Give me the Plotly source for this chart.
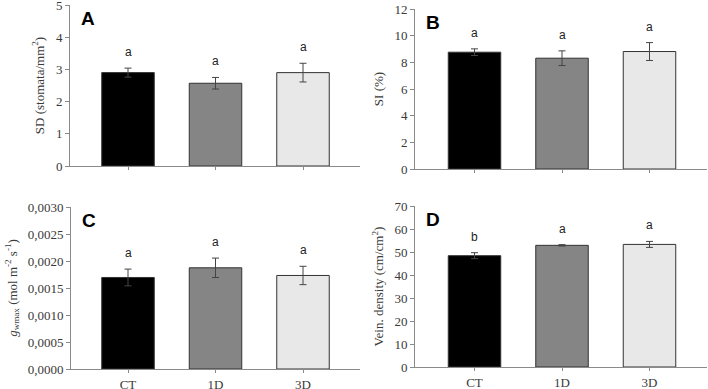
import plotly.graph_objects as go

categories = ["CT", "1D", "3D"]
bar_colors = ["#000000", "#858585", "#e8e8e8"]

sd_mean = [2.90, 2.57, 2.90]
sd_err = [0.14, 0.18, 0.29]
sd_letters = ["a", "a", "a"]

si_mean = [8.76, 8.31, 8.81]
si_err = [0.25, 0.55, 0.67]
si_letters = ["a", "a", "a"]

gw_mean = [0.001695, 0.001874, 0.001732]
gw_err = [0.000155, 0.000180, 0.000170]
gw_letters = ["a", "a", "a"]

vd_mean = [48.4, 52.9, 53.3]
vd_err = [1.3, 0.3, 1.3]
vd_letters = ["b", "a", "a"]

sd_ticks = [0, 1, 2, 3, 4, 5]
si_ticks = [0, 2, 4, 6, 8, 10, 12]
gw_ticks = [0, 0.0005, 0.0010, 0.0015, 0.0020, 0.0025, 0.0030]
gw_ticktext = ["0,0000", "0,0005", "0,0010", "0,0015", "0,0020", "0,0025", "0,0030"]
vd_ticks = [0, 10, 20, 30, 40, 50, 60, 70]

W, H = 708, 389

def px_x(a, b):
    return [a / W, b / W]

def px_y(top, bottom):
    return [1 - bottom / H, 1 - top / H]

panels = [
    dict(name="A", mean=sd_mean, err=sd_err, letters=sd_letters, ticks=sd_ticks, ticktext=None,
         yrange=[0, 5], title="SD (stomata/mm<sup>2</sup>)", xd=(70, 360), yd=(5, 166), showx=False,
         standoff=8),
    dict(name="B", mean=si_mean, err=si_err, letters=si_letters, ticks=si_ticks, ticktext=None,
         yrange=[0, 12], title="SI (%)", xd=(415, 707), yd=(9, 169), showx=False, standoff=7),
    dict(name="C", mean=gw_mean, err=gw_err, letters=gw_letters, ticks=gw_ticks, ticktext=gw_ticktext,
         yrange=[0, 0.003], title="<i>g</i><sub>wmax</sub> (mol m<sup>-2</sup> s<sup>-1</sup>)",
         xd=(71, 360), yd=(207, 369), showx=True, standoff=7),
    dict(name="D", mean=vd_mean, err=vd_err, letters=vd_letters, ticks=vd_ticks, ticktext=None,
         yrange=[0, 70], title="Vein. density (cm/cm<sup>2</sup>)", xd=(415, 707), yd=(206, 367),
         showx=True, standoff=7),
]

serif = "Liberation Serif, Times New Roman, serif"
axis_col = "#8a8a8a"
text_col = "#3a3a3a"

fig = go.Figure()
annotations = []
layout = {}
for i, p in enumerate(panels):
    n = "" if i == 0 else str(i + 1)
    xa, ya = "x" + n, "y" + n
    fig.add_trace(go.Bar(
        x=[0, 1, 2], y=p["mean"], xaxis=xa, yaxis=ya, width=0.6,
        marker=dict(color=bar_colors, line=dict(color="#333333", width=1)),
        error_y=dict(type="data", array=p["err"], color="#444444", thickness=1, width=3.5),
        showlegend=False, hoverinfo="skip",
    ))
    x0, x1 = p["xd"]
    unit = 87.5
    c0 = 128 if x0 < 200 else 474.5
    xr = [(x0 - c0) / unit, (x1 - c0) / unit]
    layout["xaxis" + n] = dict(
        domain=px_x(x0, x1), range=xr, anchor=ya, automargin=False,
        tickvals=[0, 1, 2], ticktext=categories if p["showx"] else ["", "", ""],
        showline=True, linecolor=axis_col, linewidth=1,
        ticks="outside", ticklen=3, tickcolor=axis_col,
        ticklabeloverflow="allow", ticklabelstandoff=0,
        tickfont=dict(family=serif, size=13, color=text_col),
        showgrid=False, zeroline=False, fixedrange=True,
    )
    ykw = dict(
        domain=px_y(*p["yd"]), range=p["yrange"], anchor=xa, automargin=False,
        tickvals=p["ticks"],
        showline=True, linecolor=axis_col, linewidth=1,
        ticks="outside", ticklen=4, tickcolor=axis_col,
        ticklabeloverflow="allow",
        tickfont=dict(family=serif, size=13, color=text_col),
        showgrid=False, zeroline=False, fixedrange=True,
        title=dict(text=p["title"], font=dict(family=serif, size=13, color=text_col),
                   standoff=p["standoff"]),
    )
    if p["ticktext"] is not None:
        ykw["ticktext"] = p["ticktext"]
    layout["yaxis" + n] = ykw
    for j, (m, e, t) in enumerate(zip(p["mean"], p["err"], p["letters"])):
        annotations.append(dict(
            x=j, y=m + e, xref=xa, yref=ya, text=t, showarrow=False,
            yanchor="middle", yshift=16,
            font=dict(family="Liberation Sans, Arial, sans-serif", size=12, color="#222222"),
        ))
    annotations.append(dict(
        x=(x0 + 9) / W, y=1 - (p["yd"][0] + 13) / H, xref="paper", yref="paper",
        text="<b>" + p["name"] + "</b>", showarrow=False, xanchor="left", yanchor="middle",
        font=dict(family="Liberation Sans, Arial, sans-serif", size=19, color="#000000"),
    ))

fig.update_layout(
    width=W, height=H, margin=dict(l=0, r=0, t=0, b=0),
    paper_bgcolor="white", plot_bgcolor="white",
    annotations=annotations, **layout,
)
fig.write_html("out.html", config={"displayModeBar": False},
               post_script="document.body.style.margin='0';")
